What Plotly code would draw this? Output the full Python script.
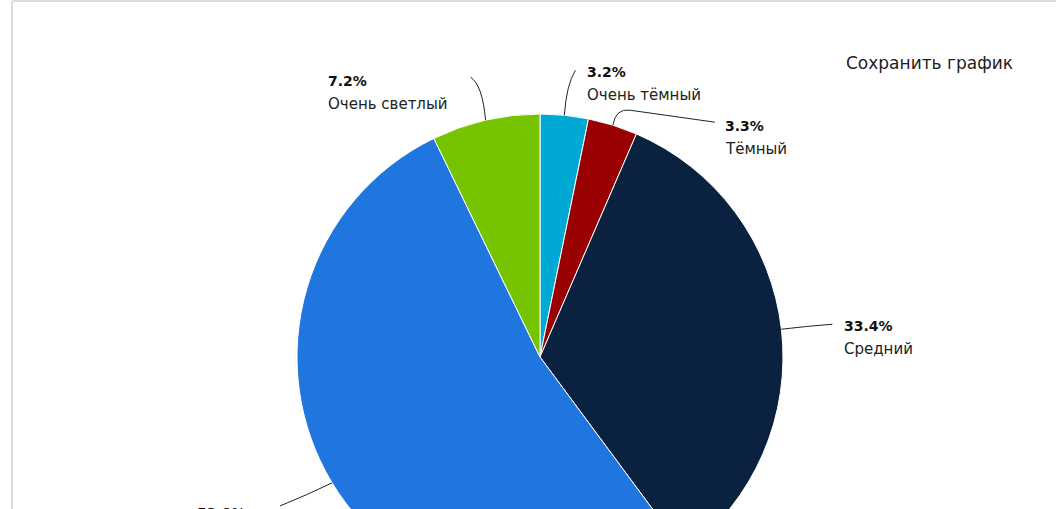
import math
import plotly.graph_objects as go

labels = ["Очень тёмный", "Тёмный", "Средний", "Светлый", "Очень светлый"]
values = [3.2, 3.3, 33.4, 53.0, 7.2]
pct_text = ["3.2%", "3.3%", "33.4%", "53.0%", "7.2%"]
colors = ["#00A9D4", "#990000", "#0A2240", "#1F76DF", "#76C400"]

W, H = 1056, 620
CX, CY, R = 540, 357, 243


def px(x):
    return x / W


def py(y):
    return 1 - y / H


fig = go.Figure(go.Pie(
    labels=labels, values=values, sort=False, direction="clockwise",
    rotation=0, textinfo="none", hoverinfo="label+percent",
    marker=dict(colors=colors, line=dict(color="#ffffff", width=1)),
    domain=dict(x=[px(CX - R), px(CX + R)], y=[py(CY + R), py(CY - R)]),
    showlegend=False,
))

# label layout (pixel offsets from slice edge point): connector end, control, text anchor
layout_opts = [
    dict(ctrl=(2, -30), end=(11, -45), tx=(21, -43)),
    dict(ctrl=(3, -17), end=(102, -3), tx=(110, 1), mid=(17, -15)),
    dict(ctrl=(25, -3), end=(51, -5), tx=(61, -3)),
    dict(ctrl=(-25, 12), end=(-52, 23), tx=(-137, 30)),
    dict(ctrl=(-3, -35), end=(-15, -43), tx=(-160, -39)),
]

total = sum(values)
shapes = []
annotations = []
cum = 0.0
for i, v in enumerate(values):
    mid = (cum + v / 2) / total * 2 * math.pi
    cum += v
    ex = CX + R * math.sin(mid)
    ey = CY - R * math.cos(mid)
    o = layout_opts[i]
    cx_, cy_ = ex + o["ctrl"][0], ey + o["ctrl"][1]
    enx, eny = ex + o["end"][0], ey + o["end"][1]
    if "mid" in o:
        mx, my = ex + o["mid"][0], ey + o["mid"][1]
        path = (f"M {px(ex)},{py(ey)} Q {px(cx_)},{py(cy_)} {px(mx)},{py(my)} "
                f"L {px(enx)},{py(eny)}")
    else:
        path = f"M {px(ex)},{py(ey)} Q {px(cx_)},{py(cy_)} {px(enx)},{py(eny)}"
    shapes.append(dict(type="path", path=path, xref="paper", yref="paper",
                       line=dict(color="#222222", width=1)))
    tx, ty = ex + o["tx"][0], ey + o["tx"][1]
    annotations.append(dict(x=px(tx), y=py(ty), xref="paper", yref="paper",
                            text=f"<b>{pct_text[i]}</b>", showarrow=False,
                            xanchor="left", yanchor="middle",
                            font=dict(family="DejaVu Sans", size=14, color="#111111")))
    annotations.append(dict(x=px(tx), y=py(ty + 23), xref="paper", yref="paper",
                            text=labels[i], showarrow=False,
                            xanchor="left", yanchor="middle",
                            font=dict(family="DejaVu Sans", size=15, color="#222222")))

annotations.append(dict(x=px(844), y=py(63), xref="paper", yref="paper",
                        text="Сохранить график", showarrow=False,
                        xanchor="left", yanchor="middle",
                        font=dict(family="DejaVu Sans", size=17, color="#222222")))

# outer frame
shapes.append(dict(type="line", xref="paper", yref="paper",
                   x0=px(12), x1=1, y0=py(1), y1=py(1),
                   line=dict(color="#D9DCE1", width=2)))
shapes.append(dict(type="line", xref="paper", yref="paper",
                   x0=px(12), x1=px(12), y0=py(1), y1=0,
                   line=dict(color="#D9DCE1", width=2)))

fig.update_layout(
    width=W, height=H, margin=dict(l=0, r=0, t=0, b=0),
    paper_bgcolor="#ffffff", plot_bgcolor="#ffffff",
    shapes=shapes, annotations=annotations,
)

fig.write_html("out.html", config={"displayModeBar": False},
               post_script="document.body.style.margin='0';"
                           "document.body.style.overflow='hidden';"
                           "document.documentElement.style.overflow='hidden';")
